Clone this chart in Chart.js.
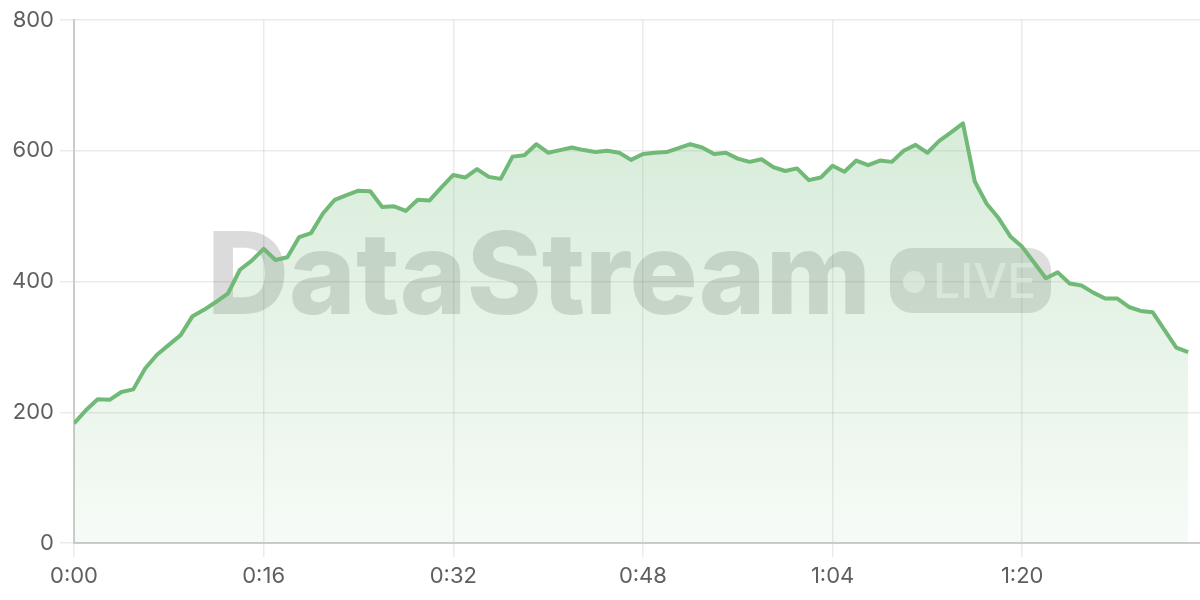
<!DOCTYPE html>
<html>
<head>
<meta charset="utf-8">
<script src="https://cdn.jsdelivr.net/npm/chart.js@4/dist/chart.umd.min.js"></script>
<style>
  html, body { margin: 0; padding: 0; background: #ffffff; }
  #wrap { width: 1200px; height: 600px; position: relative; }
</style>
</head>
<body>
<div id="wrap"><canvas id="c" width="1200" height="600"></canvas></div>
<script>
// Values per minute (0:00 .. 1:34)
const viewerValues = [
  183, 203, 220, 219, 231, 235, 267, 288, 303, 318,
  347, 357, 369, 382, 418, 432, 450, 433, 437, 468,
  474, 504, 525, 532, 539, 538, 514, 515, 508, 525,
  524, 544, 563, 559, 572, 560, 557, 591, 593, 610,
  597, 601, 605, 601, 598, 600, 597, 586, 595, 597,
  598, 604, 610, 605, 595, 597, 588, 583, 587, 575,
  569, 573, 555, 559, 577, 568, 585, 578, 585, 583,
  600, 609, 597, 615, 628, 642, 553, 519, 497, 469,
  453, 429, 405, 414, 397, 394, 383, 374, 374, 361,
  355, 353, 326, 299, 292
];
const minuteIndex = viewerValues.map((_, i) => i);
const xTickValues = [0, 16, 32, 48, 64, 80];
const xTickLabels = ['0:00', '0:16', '0:32', '0:48', '1:04', '1:20'];
const yTickValues = [0, 200, 400, 600, 800];
const watermarkText = 'DataStream';
const badgeText = 'LIVE';

const lineColor = '#71b977';

const watermarkPlugin = {
  id: 'watermark',
  beforeDatasetsDraw(chart) {
    const { ctx, chartArea } = chart;
    const cx = (chartArea.left + chartArea.right) / 2 - 8;
    const cy = (chartArea.top + chartArea.bottom) / 2;
    ctx.save();
    ctx.font = '800 114px Inter';
    let tw = ctx.measureText(watermarkText).width;
    const target = 664;
    const sx = target / tw;
    const gap = 19, bw = 161, bh = 65;
    const total = target + gap + bw;
    const x0 = cx - total / 2;
    ctx.fillStyle = 'rgba(0,0,0,0.14)';
    ctx.textBaseline = 'alphabetic';
    ctx.textAlign = 'left';
    ctx.save();
    ctx.translate(x0, cy + 32);
    ctx.scale(sx, 1);
    ctx.fillText(watermarkText, 0, 0);
    ctx.restore();
    // badge
    const bx = x0 + target + gap, by = cy - 33.5;
    ctx.beginPath();
    ctx.roundRect(bx, by, bw, bh, 22);
    ctx.fillStyle = 'rgba(0,0,0,0.13)';
    ctx.fill();
    ctx.fillStyle = 'rgba(255,255,255,0.55)';
    ctx.beginPath();
    ctx.arc(bx + 24, cy + 0.5, 11, 0, Math.PI * 2);
    ctx.fill();
    ctx.font = '500 48px Inter';
    ctx.fillText(badgeText, bx + 43, cy + 16);
    ctx.restore();
  }
};

new Chart(document.getElementById('c'), {
  type: 'line',
  data: {
    datasets: [{
      data: minuteIndex.map((m, i) => ({ x: m, y: viewerValues[i] })),
      borderColor: lineColor,
      borderWidth: 4,
      borderJoinStyle: 'round',
      tension: 0,
      pointRadius: 0,
      fill: 'origin',
      backgroundColor(context) {
        const { chart } = context;
        const area = chart.chartArea;
        if (!area) return 'rgba(108,184,114,0.2)';
        const g = chart.ctx.createLinearGradient(0, area.top, 0, area.bottom);
        g.addColorStop(0, 'rgba(108,184,114,0.32)');
        g.addColorStop(1, 'rgba(108,184,114,0.06)');
        return g;
      }
    }]
  },
  options: {
    responsive: false,
    animation: false,
    layout: { padding: { top: 20, right: 0, bottom: 0, left: 0 } },
    plugins: { legend: { display: false }, tooltip: { enabled: false } },
    scales: {
      x: {
        type: 'linear',
        min: 0,
        max: 95,
        afterBuildTicks(scale) { scale.ticks = xTickValues.map(v => ({ value: v })); },
        afterFit(scale) { scale.height = 57; },
        ticks: {
          color: '#5f5f5f',
          font: { family: 'Inter', size: 22 },
          padding: 6,
          maxRotation: 0,
          callback(value) { const i = xTickValues.indexOf(value); return i >= 0 ? xTickLabels[i] : ''; }
        },
        grid: { color: 'rgba(0,0,0,0.08)', tickLength: 14, lineWidth: 1.5 },
        border: { color: '#cccccc', width: 2 }
      },
      y: {
        min: 0,
        max: 800,
        afterBuildTicks(scale) { scale.ticks = yTickValues.map(v => ({ value: v })); },
        afterFit(scale) { scale.width = 74; },
        ticks: {
          color: '#5f5f5f',
          font: { family: 'Inter', size: 22 },
          padding: 6
        },
        grid: { color: 'rgba(0,0,0,0.08)', tickLength: 14, lineWidth: 1.5 },
        border: { color: '#cccccc', width: 2 }
      }
    }
  },
  plugins: [watermarkPlugin]
});
</script>
</body>
</html>
